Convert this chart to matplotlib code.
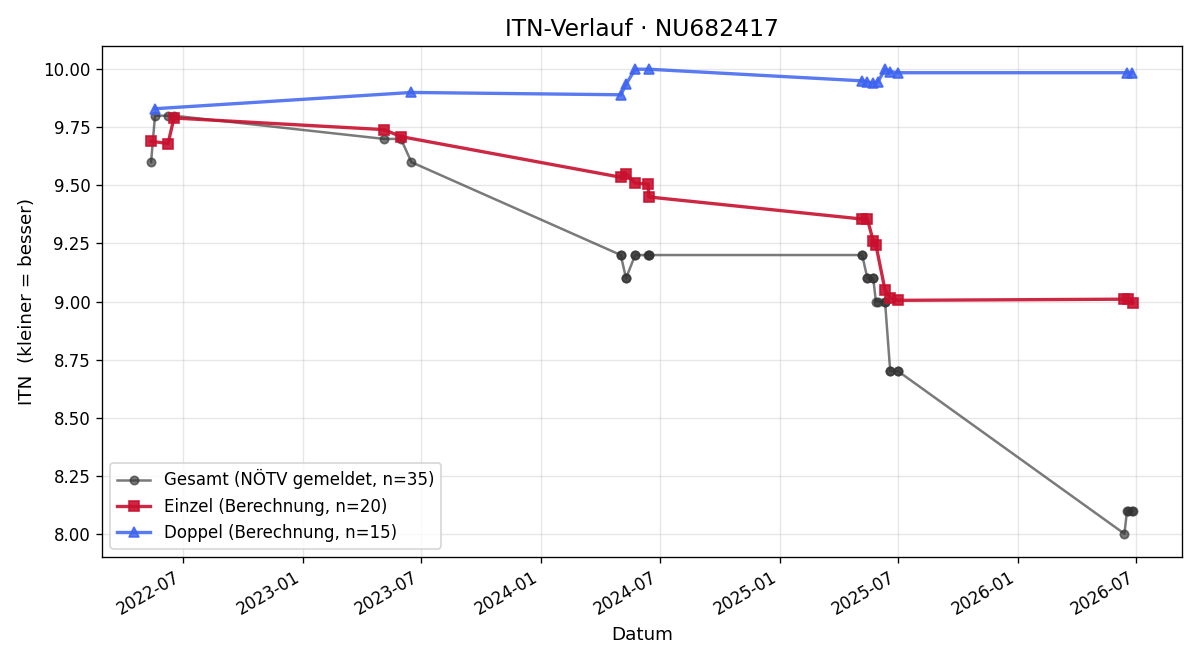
import matplotlib
matplotlib.use("Agg")
import matplotlib.pyplot as plt
import matplotlib.dates as mdates
from matplotlib.ticker import FormatStrFormatter
import pandas as pd

gesamt_dates = ["2022-05-13", "2022-05-19", "2022-06-08", "2022-06-17",
                "2023-05-05", "2023-05-31", "2023-06-16",
                "2024-05-02", "2024-05-02", "2024-05-10", "2024-05-10",
                "2024-05-24", "2024-05-24", "2024-06-13", "2024-06-14", "2024-06-14",
                "2025-05-07", "2025-05-07", "2025-05-15", "2025-05-15",
                "2025-05-24", "2025-05-24", "2025-05-28", "2025-05-31",
                "2025-06-11", "2025-06-11", "2025-06-19", "2025-06-19",
                "2025-07-01", "2025-07-01",
                "2026-06-13", "2026-06-17", "2026-06-19", "2026-06-24", "2026-06-26"]
gesamt_vals = [9.60, 9.80, 9.80, 9.80,
               9.70, 9.70, 9.60,
               9.20, 9.20, 9.10, 9.10,
               9.20, 9.20, 9.20, 9.20, 9.20,
               9.20, 9.20, 9.10, 9.10,
               9.10, 9.10, 9.00, 9.00,
               9.00, 9.00, 8.70, 8.70,
               8.70, 8.70,
               8.00, 8.10, 8.10, 8.10, 8.10]

einzel_dates = ["2022-05-13", "2022-06-08", "2022-06-17",
                "2023-05-05", "2023-05-31",
                "2024-05-02", "2024-05-10", "2024-05-24", "2024-06-13", "2024-06-14",
                "2025-05-07", "2025-05-15", "2025-05-24", "2025-05-28",
                "2025-06-11", "2025-06-19", "2025-07-01",
                "2026-06-13", "2026-06-19", "2026-06-26"]
einzel_vals = [9.69, 9.68, 9.79,
               9.74, 9.71,
               9.535, 9.55, 9.51, 9.505, 9.45,
               9.355, 9.355, 9.26, 9.245,
               9.05, 9.015, 9.005,
               9.01, 9.01, 8.995]

doppel_dates = ["2022-05-19", "2023-06-16",
                "2024-05-02", "2024-05-10", "2024-05-24", "2024-06-14",
                "2025-05-07", "2025-05-15", "2025-05-24", "2025-05-31",
                "2025-06-11", "2025-06-19", "2025-07-01",
                "2026-06-17", "2026-06-24"]
doppel_vals = [9.83, 9.90,
               9.89, 9.935, 10.00, 10.00,
               9.95, 9.945, 9.94, 9.945,
               10.00, 9.99, 9.985,
               9.985, 9.985]

fig, ax = plt.subplots(figsize=(10, 5.5), dpi=120)

ax.plot(pd.to_datetime(gesamt_dates), gesamt_vals, marker="o", color="#333333",
        alpha=0.65, linewidth=1.5, markersize=5,
        label=f"Gesamt (NÖTV gemeldet, n={len(gesamt_vals)})")
ax.plot(pd.to_datetime(einzel_dates), einzel_vals, marker="s", color="#c8102e",
        alpha=0.9, linewidth=2, markersize=6,
        label=f"Einzel (Berechnung, n={len(einzel_vals)})")
ax.plot(pd.to_datetime(doppel_dates), doppel_vals, marker="^", color="#3d63f0",
        alpha=0.85, linewidth=2, markersize=6,
        label=f"Doppel (Berechnung, n={len(doppel_vals)})")

ax.set_title("ITN-Verlauf · NU682417", fontsize=14)
ax.set_xlabel("Datum", fontsize=11)
ax.set_ylabel("ITN  (kleiner = besser)", fontsize=11)
ax.yaxis.set_major_formatter(FormatStrFormatter("%.2f"))
ax.xaxis.set_major_locator(mdates.MonthLocator(bymonth=[1, 7]))
ax.xaxis.set_major_formatter(mdates.DateFormatter("%Y-%m"))
ax.grid(True, alpha=0.3)
ax.legend(loc="lower left", fontsize=10)
fig.autofmt_xdate()
fig.subplots_adjust(left=102/1200, right=1182/1200, top=1-46/660, bottom=1-557/660)
fig.savefig("out.png", dpi=120)
